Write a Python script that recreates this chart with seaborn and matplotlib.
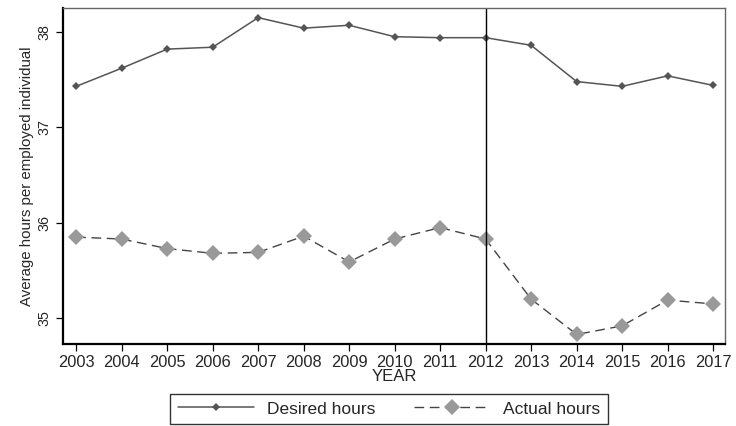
import matplotlib
matplotlib.use("Agg")
import matplotlib.pyplot as plt
import seaborn as sns
import pandas as pd

years = list(range(2003, 2018))
desired_hours = [37.43, 37.62, 37.82, 37.84, 38.15, 38.04, 38.07, 37.95,
                 37.94, 37.94, 37.86, 37.48, 37.43, 37.54, 37.44]
actual_hours = [35.85, 35.83, 35.73, 35.68, 35.69, 35.86, 35.59, 35.83,
                35.95, 35.83, 35.20, 34.83, 34.92, 35.19, 35.15]
y_ticks = [35, 36, 37, 38]
break_year = 2012

sns.set_theme(style="white")
plt.rcParams["font.family"] = ["Liberation Sans", "DejaVu Sans"]

df = pd.DataFrame({"YEAR": years, "Desired hours": desired_hours,
                   "Actual hours": actual_hours})

fig = plt.figure(figsize=(7.36, 4.26), dpi=100)
ax = fig.add_axes([0.0856, 0.1925, 0.8994, 0.7885])

sns.lineplot(data=df, x="YEAR", y="Desired hours", ax=ax, color="#555555",
             linewidth=1.1, marker="D", markersize=4.5, markeredgewidth=0,
             markerfacecolor="#555555", label="Desired hours")
sns.lineplot(data=df, x="YEAR", y="Actual hours", ax=ax, color="#444444",
             linewidth=1.0, linestyle="--", marker="D",
             markersize=8, markeredgewidth=0, markerfacecolor="#999999",
             label="Actual hours")
ax.lines[-1].set_dashes((7, 4))

ax.axvline(break_year, color="black", linewidth=1.0)

ax.set_xlim(2002.71, 2017.26)
ax.set_ylim(34.73, 38.25)
ax.set_xticks(years)
ax.set_xticklabels([str(y) for y in years], fontsize=11.8)
ax.set_yticks(y_ticks)
ax.set_yticklabels([str(t) for t in y_ticks], fontsize=10.3, rotation=90,
                   va="center")
ax.tick_params(axis="both", direction="out", length=5, width=0.9,
               color="black", pad=3, left=True, bottom=True)
ax.set_xlabel("YEAR", fontsize=12, labelpad=-1)
ax.set_ylabel("Average hours per employed individual", fontsize=10.8,
              labelpad=3)

for side in ("left", "bottom"):
    ax.spines[side].set_color("black")
    ax.spines[side].set_linewidth(1.6)
for side in ("top", "right"):
    ax.spines[side].set_color("#666666")
    ax.spines[side].set_linewidth(1.0)

handles, labels = ax.get_legend_handles_labels()
ax.get_legend().remove()
leg = fig.legend(handles, labels, loc="center", ncol=2,
                 bbox_to_anchor=(0.529, 0.040), fontsize=12.5, frameon=True,
                 fancybox=False, edgecolor="black", handlelength=4.4,
                 columnspacing=2.2, borderpad=0.45, handletextpad=0.75)
leg.get_frame().set_linewidth(1.0)

fig.savefig("out.png", dpi=100)
